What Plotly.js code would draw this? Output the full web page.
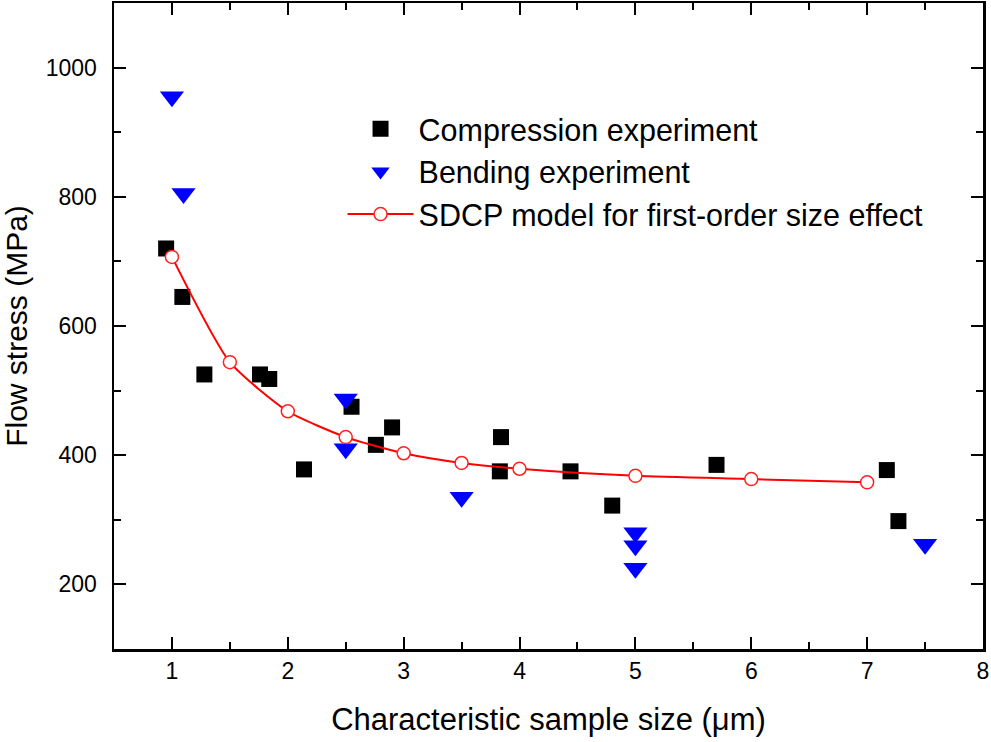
<!DOCTYPE html>
<html>
<head>
<meta charset="utf-8">
<script src="https://cdn.plot.ly/plotly-3.0.1.min.js"></script>
<style>html,body{margin:0;padding:0;background:#fff;}#chart{width:991px;height:742px;}</style>
</head>
<body>
<div id="chart"></div>
<script>
// Compression experiment (black squares)
const compX = [0.95, 1.09, 1.28, 1.76, 1.84, 2.14, 2.55, 2.76, 2.90, 3.84, 3.83, 4.44, 4.80, 5.70, 7.17, 7.27];
const compY = [720, 645, 525, 525, 518, 378, 475, 416, 443, 428, 375, 375, 322, 385, 377, 298];
// Bending experiment (blue down-triangles)
const bendX = [1.0, 1.1, 2.5, 2.5, 3.5, 5.0, 5.0, 5.0, 7.5];
const bendY = [955, 805, 487, 410, 335, 280, 260, 225, 262];
// SDCP model for first-order size effect
const modelX = [1, 1.5, 2, 2.5, 3, 3.5, 4, 5, 6, 7];
const modelY = [707, 544, 468, 428, 403, 388, 379, 368, 363, 358];

const names = ['Compression experiment', 'Bending experiment', 'SDCP model for first-order size effect'];
const xTitle = 'Characteristic sample size (\u03bcm)';
const yTitle = 'Flow stress (MPa)';

const FONT = '"Liberation Sans", Arial, sans-serif';

const traces = [
  {x: compX, y: compY, name: names[0], type: 'scatter', mode: 'markers',
   marker: {symbol: 'square', size: 16, color: '#000000'}},
  {x: bendX, y: bendY, name: names[1], type: 'scatter', mode: 'markers',
   marker: {symbol: 'triangle-down', size: 21, color: '#0000ff'}},
  {x: modelX, y: modelY, name: names[2], type: 'scatter', mode: 'lines+markers',
   line: {color: '#ff0000', width: 2, shape: 'spline', smoothing: 0.6},
   marker: {symbol: 'circle', size: 13, color: '#ffffff', line: {color: '#ff2020', width: 1.5}}}
];

const axisCommon = {
  showline: true, linecolor: '#000', linewidth: 2.5, mirror: 'allticks',
  ticks: 'inside', ticklen: 12, tickwidth: 2, tickcolor: '#000',
  showgrid: false, zeroline: false,
  tickfont: {family: FONT, size: 23, color: '#000'}
};

const layout = {
  width: 991, height: 742,
  margin: {l: 114, r: 8, t: 3, b: 93},
  paper_bgcolor: '#fff', plot_bgcolor: '#fff',
  font: {family: FONT, color: '#000'},
  showlegend: true,
  legend: {x: 0.263, xanchor: 'left', y: 0.846, yanchor: 'top',
           bgcolor: 'rgba(0,0,0,0)', borderwidth: 0, itemwidth: 66,
           font: {family: FONT, size: 30.5, color: '#000'}},
  xaxis: Object.assign({}, axisCommon, {
    range: [0.5, 8], dtick: 1, tick0: 0,
    minor: {dtick: 0.5, ticks: 'inside', ticklen: 7, tickwidth: 2, tickcolor: '#000'},
    ticklabelstandoff: 0,
    title: {text: xTitle, font: {family: FONT, size: 31, color: '#000'}, standoff: 25}
  }),
  yaxis: Object.assign({}, axisCommon, {
    range: [100, 1100], dtick: 200, tick0: 0,
    minor: {dtick: 100, ticks: 'inside', ticklen: 7, tickwidth: 2, tickcolor: '#000'},
    ticklabelstandoff: 10,
    title: {text: yTitle, font: {family: FONT, size: 30, color: '#000'}, standoff: 12}
  })
};

Plotly.newPlot('chart', traces, layout, {displayModeBar: false, staticPlot: true});
</script>
</body>
</html>
